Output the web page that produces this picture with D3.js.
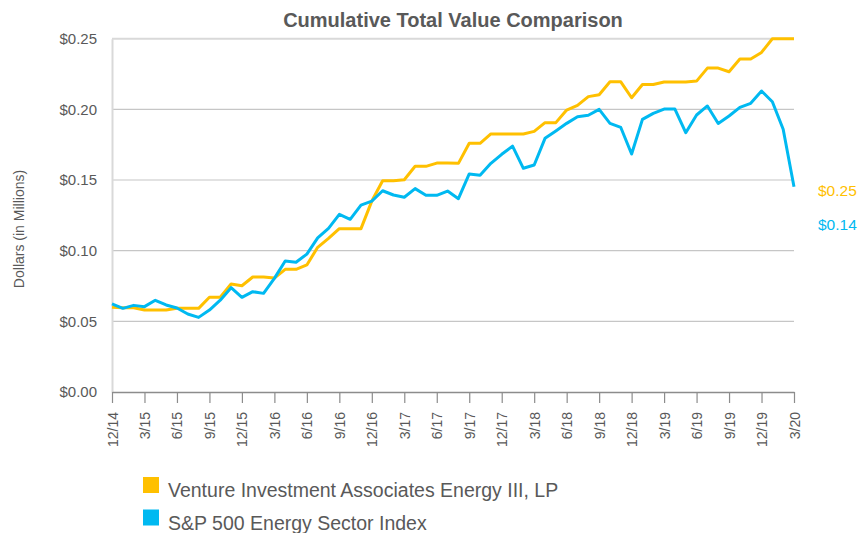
<!DOCTYPE html>
<html>
<head>
<meta charset="utf-8">
<script src="https://cdn.jsdelivr.net/npm/d3@7"></script>
<style>
  html, body { margin: 0; padding: 0; background: #fff; }
  svg { display: block; font-family: "Liberation Sans", Arial, sans-serif; }
</style>
</head>
<body>
<svg id="chart" width="860" height="533"></svg>
<script>
// Quarterly tick labels, one every three months from Dec 2014 to Mar 2020
const tickLabels = ["12/14","3/15","6/15","9/15","12/15","3/16","6/16","9/16","12/16","3/17",
  "6/17","9/17","12/17","3/18","6/18","9/18","12/18","3/19","6/19","9/19","12/19","3/20"];

// Month-end values ($ millions), 64 months
const ventureValues = [
  0.060, 0.0596, 0.0596, 0.058, 0.058, 0.058, 0.0592, 0.0592, 0.0592, 0.067,
  0.067, 0.0764, 0.0752, 0.0814, 0.0814, 0.0807, 0.0868, 0.0868, 0.0899, 0.1024,
  0.1087, 0.1156, 0.1156, 0.1156, 0.1351, 0.1495, 0.1495, 0.1502, 0.1597, 0.1597,
  0.162, 0.162, 0.1618, 0.176, 0.176, 0.1826, 0.1826, 0.1826, 0.1826, 0.1844,
  0.1906, 0.1906, 0.1995, 0.2028, 0.209, 0.2104, 0.2195, 0.2195, 0.2082, 0.2176,
  0.2176, 0.2193, 0.2193, 0.2193, 0.220, 0.2292, 0.2292, 0.2266, 0.2356, 0.2356,
  0.2403, 0.250, 0.250, 0.250
];
const energyValues = [
  0.0623, 0.0592, 0.0613, 0.0604, 0.0649, 0.0616, 0.0594, 0.0552, 0.0528, 0.058,
  0.065, 0.0738, 0.067, 0.071, 0.0698, 0.0804, 0.0927, 0.0918, 0.0976, 0.109,
  0.1158, 0.1257, 0.1222, 0.1323, 0.1351, 0.1424, 0.1394, 0.1378, 0.1439, 0.1392,
  0.1392, 0.1422, 0.1368, 0.1543, 0.1533, 0.1618, 0.1682, 0.174, 0.1583, 0.1606,
  0.1795, 0.1847, 0.1901, 0.1948, 0.1958, 0.200, 0.1901, 0.1872, 0.1684, 0.1929,
  0.1972, 0.2002, 0.2002, 0.1835, 0.196, 0.2024, 0.190, 0.1953, 0.2014, 0.2043,
  0.213, 0.2054, 0.1859, 0.1452
];

const yTicks = [0, 0.05, 0.10, 0.15, 0.20, 0.25];
const seriesNames = ["Venture Investment Associates Energy III, LP", "S&P 500 Energy Sector Index"];
const seriesColors = ["#FFC000", "#00B9F1"];
const endLabels = ["$0.25", "$0.14"];

const svg = d3.select("#chart");
const textColor = "#595959";

const x = d3.scaleLinear().domain([0, ventureValues.length - 1]).range([112, 794]);
const y = d3.scaleLinear().domain([0, 0.25]).range([392, 38.7]);

// Title
svg.append("text")
  .attr("x", 453).attr("y", 27)
  .attr("text-anchor", "middle")
  .attr("font-size", 20).attr("font-weight", "bold")
  .attr("fill", textColor)
  .text("Cumulative Total Value Comparison");

// Horizontal gridlines
svg.append("g")
  .selectAll("line")
  .data(yTicks.filter(d => d > 0))
  .join("line")
  .attr("x1", 112).attr("x2", 794)
  .attr("y1", d => y(d)).attr("y2", d => y(d))
  .attr("stroke", d => d === 0.25 ? "#d9d9d9" : "#c6c6c6")
  .attr("stroke-width", d => d === 0.25 ? 2 : 1.2);

// Y axis
const yAxis = svg.append("g")
  .attr("transform", "translate(112,0)")
  .call(d3.axisLeft(y).tickValues(yTicks).tickSize(0).tickPadding(15)
    .tickFormat(d => "$" + d3.format(".2f")(d)));
yAxis.select(".domain").attr("stroke", "#d9d9d9").attr("stroke-width", 2);
yAxis.selectAll("text")
  .attr("font-size", 15).attr("fill", textColor)
  .attr("font-family", "Liberation Sans, Arial, sans-serif");

// Y axis title
svg.append("text")
  .attr("transform", "translate(24,229) rotate(-90)")
  .attr("text-anchor", "middle")
  .attr("font-size", 14).attr("fill", textColor)
  .text("Dollars (in Millions)");

// X axis with quarterly ticks
const tickIdx = tickLabels.map((_, i) => i * 3);
const xAxis = svg.append("g")
  .attr("transform", "translate(0,392)")
  .call(d3.axisBottom(x).tickValues(tickIdx).tickSize(11).tickSizeOuter(0)
    .tickFormat((d, i) => tickLabels[i]));
xAxis.select(".domain").attr("stroke", "#8c8c8c").attr("stroke-width", 1.3);
xAxis.selectAll(".tick line").attr("stroke", "#8c8c8c").attr("stroke-width", 1.2);
xAxis.selectAll(".tick text")
  .attr("font-size", 14).attr("fill", textColor)
  .attr("font-family", "Liberation Sans, Arial, sans-serif")
  .attr("text-anchor", "end")
  .attr("dy", null)
  .attr("transform", "translate(5,20) rotate(-90)")
  .attr("x", 0).attr("y", 0);

// Series lines
const line = d3.line().x((d, i) => x(i)).y(d => y(d));
[ventureValues, energyValues].forEach((vals, k) => {
  svg.append("path")
    .datum(vals)
    .attr("fill", "none")
    .attr("stroke", seriesColors[k])
    .attr("stroke-width", 3)
    .attr("stroke-linejoin", "round")
    .attr("d", line);
});

// Ending value labels
[196, 230].forEach((yy, k) => {
  svg.append("text")
    .attr("x", 818).attr("y", yy)
    .attr("font-size", 15.5).attr("fill", seriesColors[k])
    .text(endLabels[k]);
});

// Legend
const legend = svg.append("g");
seriesNames.forEach((name, k) => {
  const ly = 477 + k * 32.5;
  legend.append("rect")
    .attr("x", 143).attr("y", ly).attr("width", 16).attr("height", 16)
    .attr("fill", seriesColors[k]);
  legend.append("text")
    .attr("x", 168).attr("y", ly + 20)
    .attr("font-size", 19.5).attr("fill", textColor)
    .text(name);
});
</script>
</body>
</html>
